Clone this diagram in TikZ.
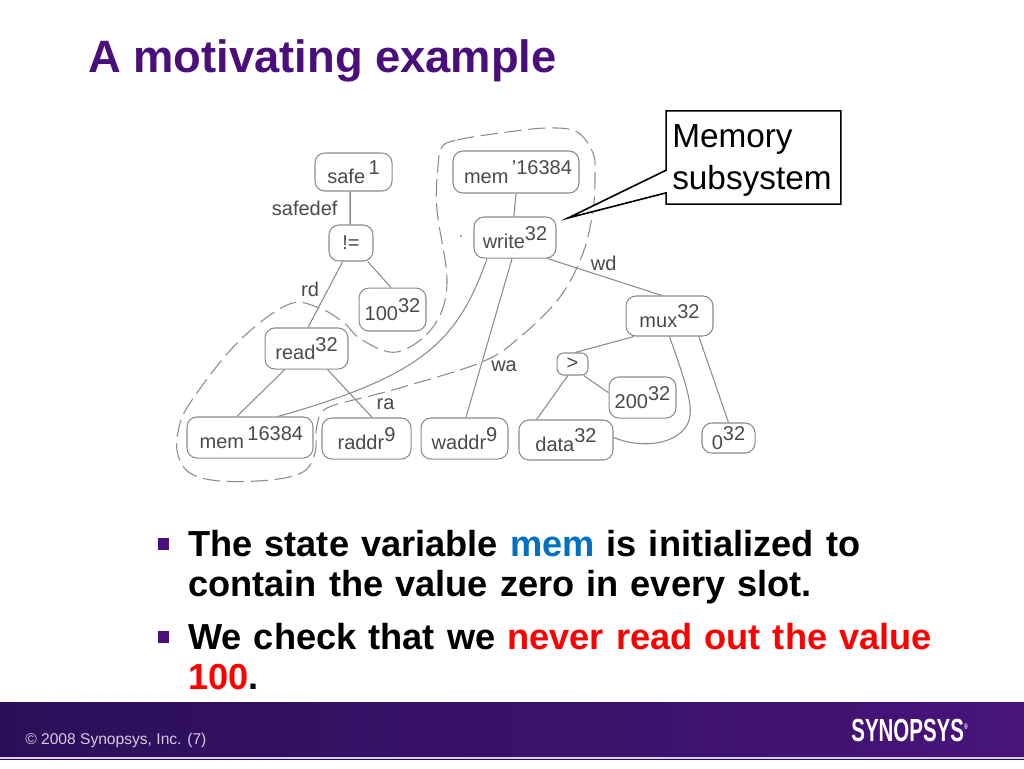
\documentclass[tikz,border=0pt]{standalone}
\usepackage{fontspec}
\setmainfont{Liberation Sans}
\usetikzlibrary{shapes.callouts}
\definecolor{slidepurple}{HTML}{4B0F7B}
\definecolor{barleft}{HTML}{2A0F58}
\definecolor{barright}{HTML}{48147A}
\definecolor{netgray}{HTML}{8C8C8C}
\definecolor{netink}{HTML}{4A4A4A}
\definecolor{memblue}{HTML}{0070C0}
\newcommand{\wbits}[2]{#1\raisebox{6.4pt}{\fontsize{15}{16}\selectfont #2}}
\tikzset{
	termbox/.style={draw=netgray, rounded corners=7.5pt, line width=.8pt, text=netink, inner sep=0pt, font=\fontsize{15}{18}\selectfont},
	wire/.style={draw=netgray, line width=.8pt},
	wirelabel/.style={text=netink, inner sep=0pt, font=\fontsize{15}{18}\selectfont},
	bulletmark/.style={fill=slidepurple, minimum size=8.6pt, inner sep=0pt},
	bullettext/.style={anchor=north west, inner sep=0pt, align=left, font=\fontsize{27.15}{30}\bfseries\selectfont}
}

\begin{document}
\begin{tikzpicture}[x=.75pt, y=-.75pt]
			\useasboundingbox (0,0) rectangle (1024,768);
			\fill[white] (0,0) rectangle (1024,768);
			\node[anchor=base west, inner sep=0pt, text=slidepurple, font=\fontsize{34}{40}\bfseries\selectfont] (title) at (88,72) {A motivating example};
			% region of the memory subsystem
			\draw[netgray, line width=.8pt, dash pattern=on 13pt off 5pt] plot[smooth cycle, tension=.6] coordinates {(442,147) (457,140) (500,133) (547,128) (577,132) (593,153) (595,175) (593,210) (583,253) (560,297) (520,337) (482,362) (403,387) (370,396) (327,408) (317,425) (315,453) (303,472) (270,480) (220,481) (190,473) (178,455) (178,432) (190,403) (237,343) (287,305) (317,307) (343,322) (362,340) (397,352) (433,327) (447,283) (437,210) (438,167)};
			\node[termbox, minimum width=57.8pt, minimum height=28.5pt] (safe) at (353.5,172) {\wbits{safe}{\,1}};
			\node[termbox, minimum width=33pt, minimum height=27pt] (ne) at (351,243) {!=};
			\node[termbox, minimum width=50.2pt, minimum height=32.2pt] (h100) at (392.5,309.5) {\wbits{100}{32}};
			\node[termbox, minimum width=62.2pt, minimum height=30.8pt] (read) at (306.5,348.5) {\wbits{read}{32}};
			\node[termbox, minimum width=94.5pt, minimum height=30.8pt] (memold) at (250,437.5) {\hspace{2pt}\wbits{mem}{\,16384}};
			\node[termbox, minimum width=66.8pt, minimum height=30.8pt] (raddr) at (366.5,438.5) {\wbits{raddr}{9}};
			\node[termbox, minimum width=65.2pt, minimum height=30.8pt] (waddr) at (464.5,438.5) {\wbits{waddr}{9}};
			\node[termbox, minimum width=70.5pt, minimum height=30pt] (data) at (566,440) {\wbits{data}{32}};
			\node[termbox, minimum width=94.5pt, minimum height=31.5pt] (memnew) at (516,172) {\hspace{3pt}\wbits{mem}{\,'16384}};
			\node[termbox, minimum width=61.5pt, minimum height=30.8pt] (write) at (515,237.5) {\wbits{write}{32}};
			\node[termbox, minimum width=65.2pt, minimum height=30pt] (mux) at (669.5,316) {\wbits{mux}{32}};
			\node[termbox, rounded corners=5pt, minimum width=23.2pt, minimum height=16.5pt] (gt) at (572.5,364) {>};
			\node[termbox, minimum width=50.2pt, minimum height=30.8pt] (h200) at (642.5,397.5) {\wbits{200}{32}};
			\node[termbox, minimum width=39.8pt, minimum height=22.5pt] (zero) at (728.5,438) {\wbits{0}{32}};
			\node[circle, fill=netink, inner sep=.5pt] (stray) at (461,236) {};
			\draw[line width=.8pt, draw=black!75] (safe.-100)--node[wirelabel, left=9pt]{safedef} (ne.93);
			\draw[wire] (ne.-114)--node[wirelabel, left=6.5pt, pos=.42]{rd} (read.86);
			\draw[wire] (ne.-48)--(h100.94);
			\draw[wire] (read.-136)--(memold.122);
			\draw[wire] (read.-45)--node[wirelabel, right=12pt, pos=.73]{ra} (raddr.75);
			\draw[wire] (memnew.-90)--(write.93);
			\draw[wire] (write.-143) .. controls (458,340) and (425,375) .. (memold.37);
			\draw[wire] (write.-98)--node[wirelabel, right=7.5pt, pos=.68]{wa} (waddr.86);
			\draw[wire] (write.-33)--node[wirelabel, above=4pt, pos=.49]{wd} (mux.110);
			\draw[wire] (mux.-150)--(gt.77);
			\draw[wire] (mux.-90) .. controls (682,372) and (692,400) .. (690,415) .. controls (688,440) and (650,452) .. (data.3);
			\draw[wire] (mux.-35)--(zero.90);
			\draw[wire] (gt.-46)--(h200.172);
			\draw[wire] (gt.-112)--(data.145);
			% callout
			\coordinate (tip) at (568,218);
			\node[rectangle callout, draw=black, fill=white, line width=1.2pt, minimum width=131pt, minimum height=70pt, inner sep=0pt, callout absolute pointer={(tip)}, callout pointer width=17pt] (memsys) at (753.5,157.5) {};
			\node[anchor=west, inner sep=0pt, align=left, font=\fontsize{25}{31.5}\selectfont] (memtext) at (672,160) {Memory\\subsystem};
			% bullets
			\node[bulletmark] (mark1) at (163.5,544) {};
			\node[bullettext, text width=560pt] (text1) at (188,530) {The state variable \textcolor{memblue}{mem} is initialized to\\contain the value zero in every slot.};
			\node[bulletmark] (mark2) at (163.5,637) {};
			\node[bullettext, text width=560pt] (text2) at (188,623) {We check that we \textcolor{red}{never read out the value}\\\textcolor{red}{100}.};
			% footer
			\shade[left color=barleft, right color=barright] (0,702) rectangle (1024,757);
			\fill[white!80!barright] (0,757) rectangle (1024,758.5);
			\fill[barleft] (0,758.5) rectangle (1024,760);
			\node[anchor=base west, inner sep=0pt, text=white!78!barright, font=\fontsize{11.7}{13}\selectfont] (copy) at (25,744) {© 2008 Synopsys, Inc. (7)};
			\node[anchor=base east, inner sep=0pt, text=white, xscale=.64, font=\fontsize{24}{28}\bfseries\selectfont] (logo) at (968,741) {SYNOPSYS\raisebox{9pt}{\fontsize{6}{7}\selectfont ®}};
		\end{tikzpicture}
\end{document}
